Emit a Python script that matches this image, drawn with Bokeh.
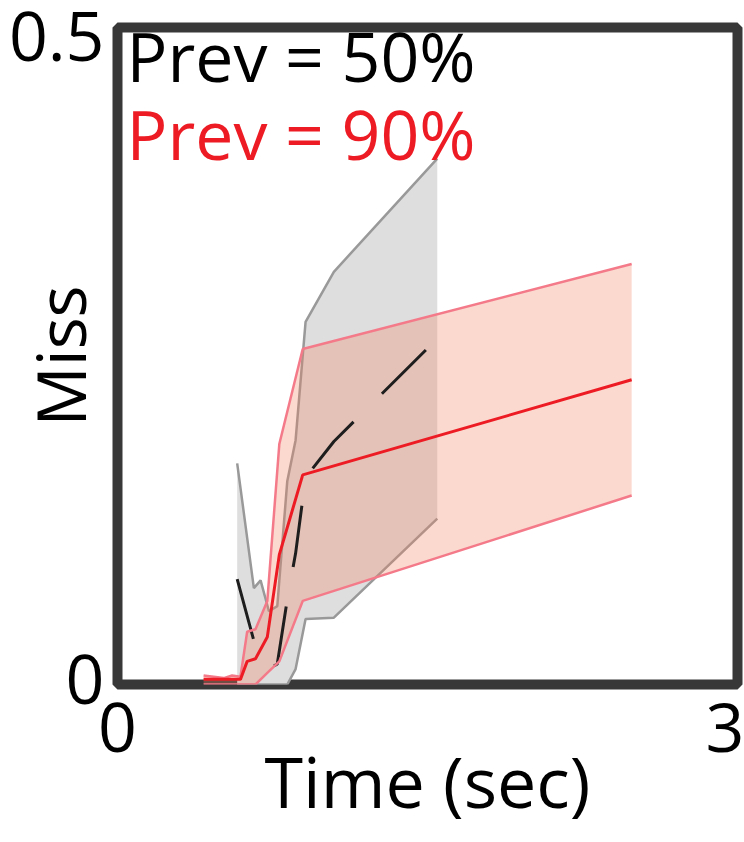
from bokeh.plotting import figure
from bokeh.models import Range1d, FixedTicker, Label
from bokeh.embed import file_html
from bokeh.resources import INLINE

# ---- data ----
# Prev = 90% (red): mean with lower / upper band
red_x = [0.423, 0.522, 0.563, 0.604, 0.637, 0.678, 0.736, 0.795, 0.910, 2.526]
red_mean = [0.0, 0.0, 0.0, 0.0, 0.014, 0.016, 0.033, 0.097, 0.159, 0.233]
red_upper = [0.003, 0.001, 0.003, 0.002, 0.037, 0.039, 0.061, 0.183, 0.257, 0.323]
red_lower = [-0.004, -0.004, -0.004, -0.004, -0.004, -0.004, 0.005, 0.014, 0.061, 0.143]

# Prev = 50% (gray): mean with lower / upper band
gray_x = [0.588, 0.670, 0.703, 0.744, 0.785, 0.834, 0.875, 0.924, 1.063, 1.571]
gray_mean = [0.078, 0.030, 0.022, 0.008, 0.012, 0.062, 0.098, 0.157, 0.185, 0.265]
gray_upper = [0.168, 0.071, 0.077, 0.053, 0.057, 0.154, 0.186, 0.278, 0.317, 0.405]
gray_lower = [-0.004, -0.004, -0.004, -0.004, -0.004, -0.004, 0.008, 0.047, 0.048, 0.125]

x_ticks = [0, 3]
y_ticks = [0, 0.5]
y_tick_labels = {0: "0", 0.5: "0.5"}
x_title = "Time (sec)"
y_title = "Miss"
legend_labels = ["Prev = 50%", "Prev = 90%"]
legend_colors = ["#000000", "#ed1c24"]

FONT = "Open Sans"

p = figure(width=744, height=842, output_backend="svg", toolbar_location=None,
           x_range=Range1d(0, 3.046), y_range=Range1d(-0.004, 0.507),
           min_border_left=117, min_border_right=7,
           min_border_top=27, min_border_bottom=158)

p.background_fill_color = "white"
p.border_fill_color = "white"
p.outline_line_color = "#383838"
p.outline_line_width = 10
p.xgrid.visible = False
p.ygrid.visible = False

# gray band (Prev = 50%)
p.varea(x=gray_x, y1=gray_lower, y2=gray_upper, fill_color="#dedede", fill_alpha=1.0)
p.line(gray_x, gray_upper, line_color="#999999", line_width=2.5)
p.line(gray_x, gray_lower, line_color="#999999", line_width=2.5)

# red band (Prev = 90%)
p.varea(x=red_x, y1=red_lower, y2=red_upper, fill_color="#f2825d", fill_alpha=0.3)

# gray mean, dashed
p.line(gray_x, gray_mean, line_color="#1e1e1e", line_width=3, line_dash="62 40")

p.line(red_x, red_upper, line_color="#f47a8a", line_width=2.5)
p.line(red_x, red_lower, line_color="#f47a8a", line_width=2.5)
p.line(red_x, red_mean, line_color="#ed1c24", line_width=3)

# legend texts
for i, (txt, col) in enumerate(zip(legend_labels, legend_colors)):
    p.add_layout(Label(x=0, y=0.5, x_units="data", y_units="data",
                       x_offset=9, y_offset=-19 - 78 * i, text=txt,
                       text_color=col, text_font=FONT, text_font_size="68px",
                       text_baseline="alphabetic", text_align="left"))

# axes
for ax in (p.xaxis[0], p.yaxis[0]):
    ax.axis_line_color = None
    ax.major_tick_line_color = None
    ax.minor_tick_line_color = None
    ax.major_label_text_font = FONT
    ax.major_label_text_font_size = "68px"
    ax.major_label_text_color = "black"
    ax.axis_label_text_font = FONT
    ax.axis_label_text_font_style = "normal"
    ax.axis_label_text_color = "black"

p.xaxis.ticker = FixedTicker(ticks=x_ticks)
p.xaxis.major_label_standoff = 12
p.xaxis.axis_label = x_title
p.xaxis.axis_label_text_font_size = "70px"
p.xaxis.axis_label_standoff = -22

p.yaxis.ticker = FixedTicker(ticks=y_ticks)
p.yaxis.major_label_overrides = y_tick_labels
p.yaxis.major_label_standoff = 7
p.yaxis.axis_label = y_title
p.yaxis.axis_label_text_font_size = "67px"
p.yaxis.axis_label_standoff = -100

open("out.html", "w").write(file_html(p, INLINE))
